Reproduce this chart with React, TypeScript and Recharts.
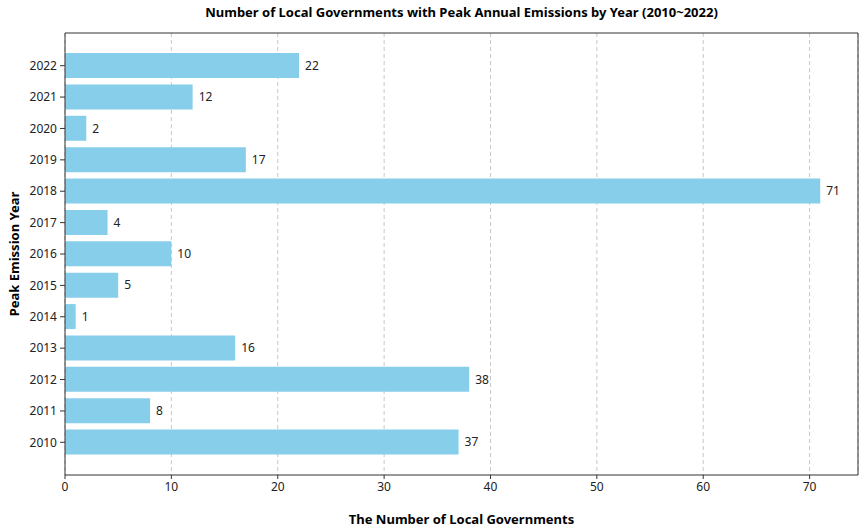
import { BarChart, Bar, XAxis, YAxis, CartesianGrid, LabelList } from 'recharts';

const years = ['2010', '2011', '2012', '2013', '2014', '2015', '2016', '2017', '2018', '2019', '2020', '2021', '2022'];
const counts = [37, 8, 38, 16, 1, 5, 10, 4, 71, 17, 2, 12, 22];
const xTicks = [0, 10, 20, 30, 40, 50, 60, 70];
const xMax = 74.55;

const data = years.map((year, i) => ({ year, count: counts[i] })).reverse();

const font = '"Noto Sans", "Open Sans", sans-serif';

export default function App() {
  return (
    <div style={{ position: 'absolute', left: 0, top: 0, width: 866, height: 527, background: '#fff', fontFamily: font }}>
      <div
        style={{
          position: 'absolute',
          top: 3,
          left: 65,
          width: 793,
          textAlign: 'center',
          fontSize: 13,
          fontWeight: 'bold',
          color: '#000',
        }}
      >
        Number of Local Governments with Peak Annual Emissions by Year (2010~2022)
      </div>
      <BarChart
        width={866}
        height={527}
        data={data}
        layout="vertical"
        margin={{ top: 33, right: 8, bottom: 0, left: 0 }}
        style={{ fontFamily: font }}
      >
        <CartesianGrid horizontal={false} stroke="#c8c8c8" strokeDasharray="4 3" />
        {/* top and right spines */}
        <CartesianGrid
          stroke="#333"
          verticalCoordinatesGenerator={({ offset }: any) => [offset.left + offset.width]}
          horizontalCoordinatesGenerator={({ offset }: any) => [offset.top]}
        />
        <XAxis
          type="number"
          domain={[0, xMax]}
          ticks={xTicks}
          allowDataOverflow
          tick={{ fontSize: 12, fill: '#222' }}
          tickSize={4}
          tickMargin={3}
          stroke="#333"
          height={52}
          label={{ value: 'The Number of Local Governments', position: 'insideBottom', offset: 3, style: { fontSize: 13, fontWeight: 'bold', fill: '#000' } }}
        />
        <YAxis
          type="category"
          dataKey="year"
          width={65}
          interval={0}
          padding={{ top: 17, bottom: 17 }}
          tick={{ fontSize: 12, fill: '#222' }}
          tickSize={5}
          tickMargin={3}
          stroke="#333"
          label={{ value: 'Peak Emission Year', angle: -90, position: 'insideLeft', offset: 14, style: { fontSize: 13, fontWeight: 'bold', fill: '#000', textAnchor: 'middle' } }}
        />
        <Bar dataKey="count" fill="#87CEEB" barSize={25} isAnimationActive={false}>
          <LabelList dataKey="count" position="right" offset={6} style={{ fontSize: 12, fill: '#222' }} />
        </Bar>
      </BarChart>
    </div>
  );
}
